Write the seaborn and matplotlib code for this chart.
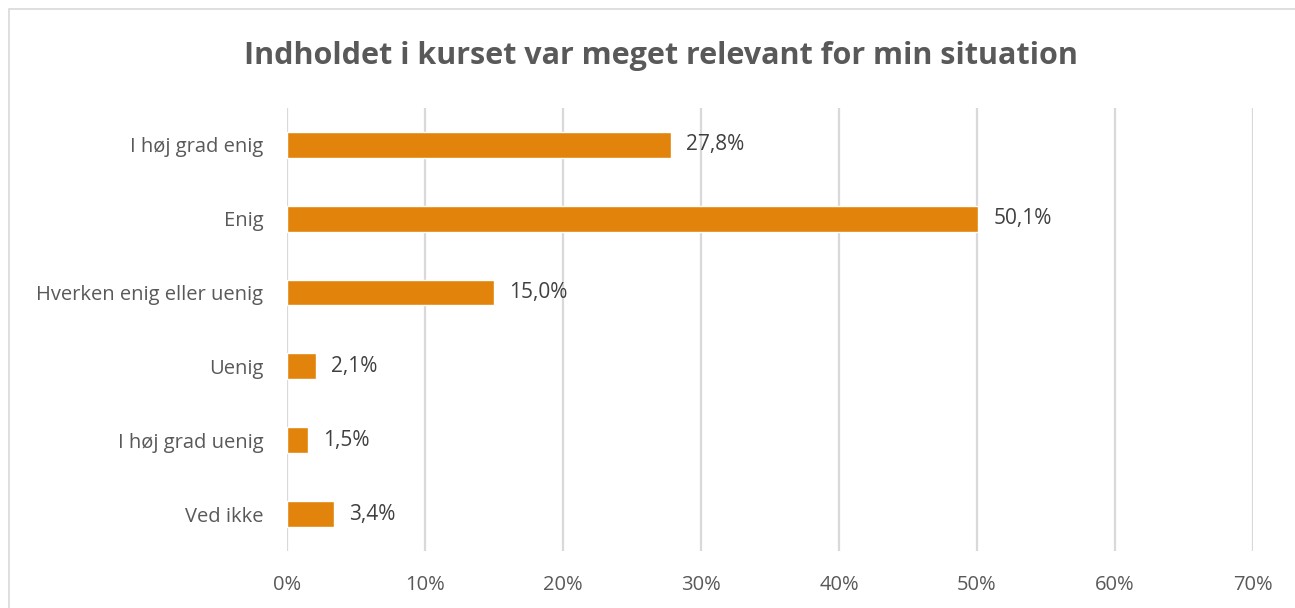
import pandas as pd
import matplotlib.pyplot as plt
import seaborn as sns
from matplotlib.patches import Rectangle

# Survey answers and shares (%)
categories = ['I høj grad enig', 'Enig', 'Hverken enig eller uenig',
              'Uenig', 'I høj grad uenig', 'Ved ikke']
values = [27.8, 50.1, 15.0, 2.1, 1.5, 3.4]
xticks = [0, 10, 20, 30, 40, 50, 60, 70]

df = pd.DataFrame({'svar': categories, 'andel': values})

sns.set_style('white')
plt.rcParams['font.family'] = ['Open Sans', 'DejaVu Sans']

fig = plt.figure(figsize=(12.95, 6.08), dpi=100)
ax = fig.add_axes([0.2216, 0.0938, 0.746, 0.7286])

sns.barplot(data=df, x='andel', y='svar', orient='h', color='#E2840B',
            saturation=1, width=0.35, ax=ax)

ax.set_xlim(0, 70)
ax.set_ylim(5.5, -0.5)
ax.set_xticks(xticks)
ax.set_xticklabels([f'{t}%' for t in xticks])
ax.set_xlabel('')
ax.set_ylabel('')
ax.xaxis.grid(True, color='#D9D9D9', linewidth=1.6)
ax.set_axisbelow(True)
for s in ax.spines.values():
    s.set_visible(False)
ax.tick_params(axis='x', length=0, pad=17, labelsize=14.5, labelcolor='#595959')
ax.tick_params(axis='y', length=0, pad=17, labelsize=14.5, labelcolor='#595959')

labels = [f'{v:.1f}%'.replace('.', ',') for v in values]
ax.bar_label(ax.containers[0], labels=labels, padding=11,
             fontsize=15, color='#404040')

fig.text(0.5104, 0.908, 'Indholdet i kurset var meget relevant for min situation',
         ha='center', va='center', fontsize=22, fontweight='bold',
         color='#595959')

# chart frame
fig.patches.append(Rectangle((9 / 1295, -0.1), 1.2, 1.1 - 9 / 608,
                             transform=fig.transFigure, fill=False,
                             edgecolor='#D9D9D9', linewidth=1.2))

fig.savefig('out.png', dpi=100, facecolor='white')
